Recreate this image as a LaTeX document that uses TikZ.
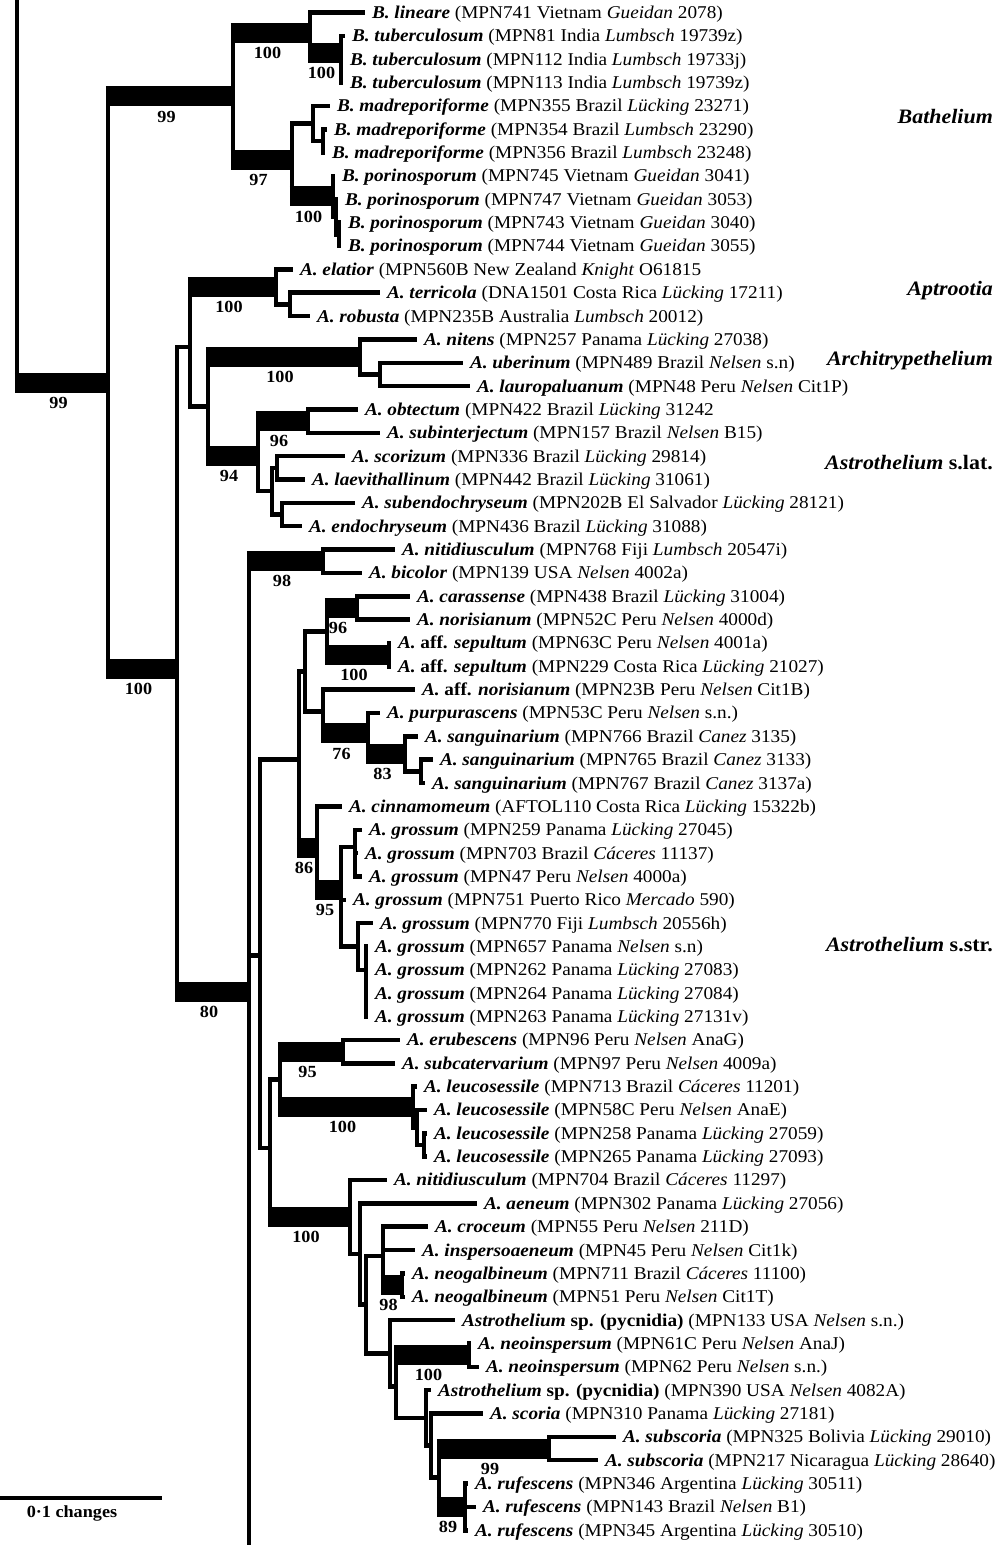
\documentclass[tikz,border=0pt]{standalone}
\usepackage{fontspec}
\setmainfont{Liberation Serif}[FakeStretch=1.07]
\newcommand{\spn}[1]{\textbf{\textit{#1}}}
\newcommand{\coll}[1]{\textit{#1}}
\newcommand{\taxfont}{\fontsize{18}{20}\selectfont}
\newcommand{\supfont}{\fontsize{17}{18}\selectfont\bfseries}
\newcommand{\cladefont}{\fontsize{20.5}{22}\selectfont\bfseries}

\begin{document}
\begin{tikzpicture}[x=1pt, y=-1pt,
                    br/.style={line width=4.5pt, line join=miter},
                    bar/.style={line width=20pt, shorten <=-2.25pt, shorten >=-2.25pt},
                    taxon/.style={anchor=west, font=\taxfont, inner xsep=7pt, inner ysep=0pt, outer sep=0pt, text height=11.9pt, text depth=0pt},
                    sup/.style={midway, font=\supfont, inner sep=0pt, text height=11.5pt, text depth=0pt, yshift=-20pt, xshift=-4pt},
                    clade/.style={anchor=east, font=\cladefont, inner sep=0pt, text height=13.5pt, text depth=0pt}
]
\useasboundingbox (0,0) rectangle (1004,1545);
%
\node [taxon] (t1) at (365,12.5) {\spn{B. lineare} (MPN741 Vietnam \coll{Gueidan} 2078)};
\node [taxon] (t2) at (345,35.85) {\spn{B. tuberculosum} (MPN81 India \coll{Lumbsch} 19739z)};
\node [taxon] (t3) at (343,59.2) {\spn{B. tuberculosum} (MPN112 India \coll{Lumbsch} 19733j)};
\node [taxon] (t4) at (343,82.55) {\spn{B. tuberculosum} (MPN113 India \coll{Lumbsch} 19739z)};
\node [taxon] (t5) at (330,105.9) {\spn{B. madreporiforme} (MPN355 Brazil \coll{Lücking} 23271)};
\node [taxon] (t6) at (327,129.25) {\spn{B. madreporiforme} (MPN354 Brazil \coll{Lumbsch} 23290)};
\node [taxon] (t7) at (325,152.6) {\spn{B. madreporiforme} (MPN356 Brazil \coll{Lumbsch} 23248)};
\node [taxon] (t8) at (335,175.95) {\spn{B. porinosporum} (MPN745 Vietnam \coll{Gueidan} 3041)};
\node [taxon] (t9) at (338,199.3) {\spn{B. porinosporum} (MPN747 Vietnam \coll{Gueidan} 3053)};
\node [taxon] (t10) at (341,222.65) {\spn{B. porinosporum} (MPN743 Vietnam \coll{Gueidan} 3040)};
\node [taxon] (t11) at (341,246.0) {\spn{B. porinosporum} (MPN744 Vietnam \coll{Gueidan} 3055)};
\node [taxon] (t12) at (293,269.35) {\spn{A. elatior} (MPN560B New Zealand \coll{Knight} O61815};
\node [taxon] (t13) at (380,292.7) {\spn{A. terricola} (DNA1501 Costa Rica \coll{Lücking} 17211)};
\node [taxon] (t14) at (310,316.05) {\spn{A. robusta} (MPN235B Australia \coll{Lumbsch} 20012)};
\node [taxon] (t15) at (417,339.4) {\spn{A. nitens} (MPN257 Panama \coll{Lücking} 27038)};
\node [taxon] (t16) at (463,362.75) {\spn{A. uberinum} (MPN489 Brazil \coll{Nelsen} s.n)};
\node [taxon] (t17) at (470,386.1) {\spn{A. lauropaluanum} (MPN48 Peru \coll{Nelsen} Cit1P)};
\node [taxon] (t18) at (358,409.45) {\spn{A. obtectum} (MPN422 Brazil \coll{Lücking} 31242};
\node [taxon] (t19) at (380,432.8) {\spn{A. subinterjectum} (MPN157 Brazil \coll{Nelsen} B15)};
\node [taxon] (t20) at (345,456.15) {\spn{A. scorizum} (MPN336 Brazil \coll{Lücking} 29814)};
\node [taxon] (t21) at (305,479.5) {\spn{A. laevithallinum} (MPN442 Brazil \coll{Lücking} 31061)};
\node [taxon] (t22) at (355,502.85) {\spn{A. subendochryseum} (MPN202B El Salvador \coll{Lücking} 28121)};
\node [taxon] (t23) at (302,526.2) {\spn{A. endochryseum} (MPN436 Brazil \coll{Lücking} 31088)};
\node [taxon] (t24) at (395,549.55) {\spn{A. nitidiusculum} (MPN768 Fiji \coll{Lumbsch} 20547i)};
\node [taxon] (t25) at (362,572.9) {\spn{A. bicolor} (MPN139 USA \coll{Nelsen} 4002a)};
\node [taxon] (t26) at (410,596.25) {\spn{A. carassense} (MPN438 Brazil \coll{Lücking} 31004)};
\node [taxon] (t27) at (410,619.6) {\spn{A. norisianum} (MPN52C Peru \coll{Nelsen} 4000d)};
\node [taxon] (t28) at (391,642.95) {\spn{A.} \textbf{aff.} \spn{sepultum} (MPN63C Peru \coll{Nelsen} 4001a)};
\node [taxon] (t29) at (391,666.3) {\spn{A.} \textbf{aff.} \spn{sepultum} (MPN229 Costa Rica \coll{Lücking} 21027)};
\node [taxon] (t30) at (415,689.65) {\spn{A.} \textbf{aff.} \spn{norisianum} (MPN23B Peru \coll{Nelsen} Cit1B)};
\node [taxon] (t31) at (380,713.0) {\spn{A. purpurascens} (MPN53C Peru \coll{Nelsen} s.n.)};
\node [taxon] (t32) at (418,736.35) {\spn{A. sanguinarium} (MPN766 Brazil \coll{Canez} 3135)};
\node [taxon] (t33) at (433,759.7) {\spn{A. sanguinarium} (MPN765 Brazil \coll{Canez} 3133)};
\node [taxon] (t34) at (425,783.05) {\spn{A. sanguinarium} (MPN767 Brazil \coll{Canez} 3137a)};
\node [taxon] (t35) at (342,806.4) {\spn{A. cinnamomeum} (AFTOL110 Costa Rica \coll{Lücking} 15322b)};
\node [taxon] (t36) at (362,829.75) {\spn{A. grossum} (MPN259 Panama \coll{Lücking} 27045)};
\node [taxon] (t37) at (358,853.1) {\spn{A. grossum} (MPN703 Brazil \coll{Cáceres} 11137)};
\node [taxon] (t38) at (362,876.45) {\spn{A. grossum} (MPN47 Peru \coll{Nelsen} 4000a)};
\node [taxon] (t39) at (346,899.8) {\spn{A. grossum} (MPN751 Puerto Rico \coll{Mercado} 590)};
\node [taxon] (t40) at (373,923.15) {\spn{A. grossum} (MPN770 Fiji \coll{Lumbsch} 20556h)};
\node [taxon] (t41) at (368,946.5) {\spn{A. grossum} (MPN657 Panama \coll{Nelsen} s.n)};
\node [taxon] (t42) at (368,969.85) {\spn{A. grossum} (MPN262 Panama \coll{Lücking} 27083)};
\node [taxon] (t43) at (368,993.2) {\spn{A. grossum} (MPN264 Panama \coll{Lücking} 27084)};
\node [taxon] (t44) at (368,1016.55) {\spn{A. grossum} (MPN263 Panama \coll{Lücking} 27131v)};
\node [taxon] (t45) at (400,1039.9) {\spn{A. erubescens} (MPN96 Peru \coll{Nelsen} AnaG)};
\node [taxon] (t46) at (395,1063.25) {\spn{A. subcatervarium} (MPN97 Peru \coll{Nelsen} 4009a)};
\node [taxon] (t47) at (417,1086.6) {\spn{A. leucosessile} (MPN713 Brazil \coll{Cáceres} 11201)};
\node [taxon] (t48) at (427,1109.95) {\spn{A. leucosessile} (MPN58C Peru \coll{Nelsen} AnaE)};
\node [taxon] (t49) at (427,1133.3) {\spn{A. leucosessile} (MPN258 Panama \coll{Lücking} 27059)};
\node [taxon] (t50) at (427,1156.65) {\spn{A. leucosessile} (MPN265 Panama \coll{Lücking} 27093)};
\node [taxon] (t51) at (387,1180.0) {\spn{A. nitidiusculum} (MPN704 Brazil \coll{Cáceres} 11297)};
\node [taxon] (t52) at (477,1203.35) {\spn{A. aeneum} (MPN302 Panama \coll{Lücking} 27056)};
\node [taxon] (t53) at (428,1226.7) {\spn{A. croceum} (MPN55 Peru \coll{Nelsen} 211D)};
\node [taxon] (t54) at (415,1250.05) {\spn{A. inspersoaeneum} (MPN45 Peru \coll{Nelsen} Cit1k)};
\node [taxon] (t55) at (405,1273.4) {\spn{A. neogalbineum} (MPN711 Brazil \coll{Cáceres} 11100)};
\node [taxon] (t56) at (405,1296.75) {\spn{A. neogalbineum} (MPN51 Peru \coll{Nelsen} Cit1T)};
\node [taxon] (t57) at (455,1320.1) {\spn{Astrothelium} \textbf{sp. (pycnidia)} (MPN133 USA \coll{Nelsen} s.n.)};
\node [taxon] (t58) at (471,1343.45) {\spn{A. neoinspersum} (MPN61C Peru \coll{Nelsen} AnaJ)};
\node [taxon] (t59) at (479,1366.8) {\spn{A. neoinspersum} (MPN62 Peru \coll{Nelsen} s.n.)};
\node [taxon] (t60) at (431,1390.15) {\spn{Astrothelium} \textbf{sp. (pycnidia)} (MPN390 USA \coll{Nelsen} 4082A)};
\node [taxon] (t61) at (483,1413.5) {\spn{A. scoria} (MPN310 Panama \coll{Lücking} 27181)};
\node [taxon] (t62) at (616,1436.85) {\spn{A. subscoria} (MPN325 Bolivia \coll{Lücking} 29010)};
\node [taxon] (t63) at (598,1460.2) {\spn{A. subscoria} (MPN217 Nicaragua \coll{Lücking} 28640)};
\node [taxon] (t64) at (468,1483.55) {\spn{A. rufescens} (MPN346 Argentina \coll{Lücking} 30511)};
\node [taxon] (t65) at (476,1506.9) {\spn{A. rufescens} (MPN143 Brazil \coll{Nelsen} B1)};
\node [taxon] (t66) at (468,1530.25) {\spn{A. rufescens} (MPN345 Argentina \coll{Lücking} 30510)};
%
\node [clade] (bath) at (993,117) {\spn{Bathelium}};
\node [clade] (aptr) at (993,289) {\spn{Aptrootia}};
\node [clade] (archi) at (993,359) {\spn{Architrypethelium}};
\node [clade] (slatlab) at (993,463) {\spn{Astrothelium} s.lat.};
\node [clade] (sstrlab) at (993,945) {\spn{Astrothelium} s.str.};
%
% internal nodes
\coordinate (root) at (17,0);
\coordinate (top) at (108,382.7);
\coordinate (bat) at (233,96.4);
\coordinate (lin) at (310,32.8);
\coordinate (tub) at (341,53);
\coordinate (bat97) at (292,159.9);
\coordinate (madA) at (313,123.4);
\coordinate (madB) at (323,141);
\coordinate (porA) at (333,196.4);
\coordinate (porB) at (336,216.8);
\coordinate (porC) at (339,234.3);
\coordinate (core) at (177,669);
\coordinate (g190) at (190,346.8);
\coordinate (apt) at (276,286.9);
\coordinate (apt2) at (290,304.4);
\coordinate (g208) at (208,406.6);
\coordinate (arch) at (360,356.9);
\coordinate (arch2) at (380,374.4);
\coordinate (slat) at (258,456.2);
\coordinate (obt) at (308,421.1);
\coordinate (slatB) at (272,491.2);
\coordinate (scor) at (277,467.8);
\coordinate (endo) at (282,514.5);
\coordinate (sstr) at (249,991.6);
\coordinate (mlow) at (249,1545);
\coordinate (nit) at (323,561.2);
\coordinate (R) at (260,955.6);
\coordinate (Q) at (299,759.7);
\coordinate (P) at (305,671.4);
\coordinate (X) at (327,631.3);
\coordinate (c96) at (357,607.9);
\coordinate (sep) at (389,654.6);
\coordinate (Y) at (323,711.5);
\coordinate (Z) at (368,733.4);
\coordinate (sangB) at (405,753.9);
\coordinate (sangC) at (421,771.4);
\coordinate (cin) at (317,848);
\coordinate (grT) at (341,890);
\coordinate (grU) at (355,847);
\coordinate (grV) at (358,946.6);
\coordinate (grW) at (366,970);
\coordinate (S) at (270,1148.2);
\coordinate (T) at (280,1079.3);
\coordinate (erub) at (343,1051.6);
\coordinate (leu) at (413,1107);
\coordinate (leuA) at (417,1127.5);
\coordinate (leuB) at (424,1145);
\coordinate (low) at (350,1217);
\coordinate (aen) at (360,1254);
\coordinate (N1) at (366,1304.6);
\coordinate (cro) at (383,1255.9);
\coordinate (neog) at (402,1285.1);
\coordinate (N2) at (390,1353.3);
\coordinate (N3) at (396,1386.5);
\coordinate (ins) at (469,1355.1);
\coordinate (sc) at (426,1417.9);
\coordinate (sr) at (431,1445.6);
\coordinate (ssr) at (439,1477.7);
\coordinate (ss) at (549,1448.5);
\coordinate (ruf) at (465,1506.9);
%
% Bathelium
\draw [br] (root) |- (top) (top) |- (bat) (top) |- (core);
\draw [br] (bat) |- (lin) (bat) |- (bat97);
\draw [br] (lin) |- (t1.west) (lin) |- (tub);
\draw [br] (tub) |- (t2.west) (tub) |- (t3.west) (tub) |- (t4.west);
\draw [br] (bat97) |- (madA) (bat97) |- (porA);
\draw [br] (madA) |- (t5.west) (madA) |- (madB);
\draw [br] (madB) |- (t6.west) (madB) |- (t7.west);
\draw [br] (porA) |- (t8.west) (porA) |- (porB);
\draw [br] (porB) |- (t9.west) (porB) |- (porC);
\draw [br] (porC) |- (t10.west) (porC) |- (t11.west);
\draw [bar] (root |- top) -- node[sup] {99} (top);
\draw [bar] (top |- bat) -- node[sup] {99} (bat);
\draw [bar] (top |- core) -- node[sup] {100} (core);
\draw [bar] (bat |- lin) -- node[sup] {100} (lin);
\draw [bar] (lin |- tub) -- node[sup] {100} (tub);
\draw [bar] (bat |- bat97) -- node[sup] {97} (bat97);
\draw [bar] (bat97 |- porA) -- node[sup] {100} (porA);
%
% Aptrootia, Architrypethelium, Astrothelium s.lat.
\draw [br] (core) |- (g190) (core) |- (sstr);
\draw [br] (g190) |- (apt) (g190) |- (g208);
\draw [br] (apt) |- (t12.west) (apt) |- (apt2);
\draw [br] (apt2) |- (t13.west) (apt2) |- (t14.west);
\draw [br] (g208) |- (arch) (g208) |- (slat);
\draw [br] (arch) |- (t15.west) (arch) |- (arch2);
\draw [br] (arch2) |- (t16.west) (arch2) |- (t17.west);
\draw [br] (slat) |- (obt) (slat) |- (slatB);
\draw [br] (obt) |- (t18.west) (obt) |- (t19.west);
\draw [br] (slatB) |- (scor) (slatB) |- (endo);
\draw [br] (scor) |- (t20.west) (scor) |- (t21.west);
\draw [br] (endo) |- (t22.west) (endo) |- (t23.west);
\draw [bar] (g190 |- apt) -- node[sup] {100} (apt);
\draw [bar] (g208 |- arch) -- node[sup] {100} (arch);
\draw [bar] (g208 |- slat) -- node[sup] {94} (slat);
\draw [bar] (slat |- obt) -- node[sup] {96} (obt);
\draw [bar] (core |- sstr) -- node[sup] {80} (sstr);
%
% Astrothelium s.str.
\draw [br] (sstr) |- (nit) (sstr) |- (R) (sstr) -- (mlow);
\draw [br] (nit) |- (t24.west) (nit) |- (t25.west);
\draw [br] (R) |- (Q) (R) |- (S);
\draw [br] (Q) |- (P) (Q) |- (cin);
\draw [br] (P) |- (X) (P) |- (Y);
\draw [br] (X) |- (c96) (X) |- (sep);
\draw [br] (c96) |- (t26.west) (c96) |- (t27.west);
\draw [br] (sep) |- (t28.west) (sep) |- (t29.west);
\draw [br] (Y) |- (t30.west) (Y) |- (Z);
\draw [br] (Z) |- (t31.west) (Z) |- (sangB);
\draw [br] (sangB) |- (t32.west) (sangB) |- (sangC);
\draw [br] (sangC) |- (t33.west) (sangC) |- (t34.west);
\draw [br] (cin) |- (t35.west) (cin) |- (grT);
\draw [br] (grT) |- (grU) (grT) |- (t39.west) (grT) |- (grV);
\draw [br] (grU) |- (t36.west) (grU) |- (t37.west) (grU) |- (t38.west);
\draw [br] (grV) |- (t40.west) (grV) |- (grW);
\draw [br] (grW) |- (t41.west) (grW) |- (t42.west) (grW) |- (t43.west) (grW) |- (t44.west);
\draw [bar] (sstr |- nit) -- node[sup] {98} (nit);
\draw [bar] (X |- c96) -- node[sup] {96} (c96);
\draw [bar] (X |- sep) -- node[sup] {100} (sep);
\draw [bar] (Y |- Z) -- node[sup] {76} (Z);
\draw [bar] (Z |- sangB) -- node[sup] {83} (sangB);
\draw [bar] (Q |- cin) -- node[sup] {86} (cin);
\draw [bar] (cin |- grT) -- node[sup] {95} (grT);
%
\draw [br] (S) |- (T) (S) |- (low);
\draw [br] (T) |- (erub) (T) |- (leu);
\draw [br] (erub) |- (t45.west) (erub) |- (t46.west);
\draw [br] (leu) |- (t47.west) (leu) |- (leuA);
\draw [br] (leuA) |- (t48.west) (leuA) |- (leuB);
\draw [br] (leuB) |- (t49.west) (leuB) |- (t50.west);
\draw [br] (low) |- (t51.west) (low) |- (aen);
\draw [br] (aen) |- (t52.west) (aen) |- (N1);
\draw [br] (N1) |- (cro) (N1) |- (N2);
\draw [br] (cro) |- (t53.west) (cro) |- (t54.west) (cro) |- (neog);
\draw [br] (neog) |- (t55.west) (neog) |- (t56.west);
\draw [br] (N2) |- (t57.west) (N2) |- (N3);
\draw [br] (N3) |- (ins) (N3) |- (sc);
\draw [br] (ins) |- (t58.west) (ins) |- (t59.west);
\draw [br] (sc) |- (t60.west) (sc) |- (sr);
\draw [br] (sr) |- (t61.west) (sr) |- (ssr);
\draw [br] (ssr) |- (ss) (ssr) |- (ruf);
\draw [br] (ss) |- (t62.west) (ss) |- (t63.west);
\draw [br] (ruf) |- (t64.west) (ruf) |- (t65.west) (ruf) |- (t66.west);
\draw [bar] (T |- erub) -- node[sup] {95} (erub);
\draw [bar] (T |- leu) -- node[sup] {100} (leu);
\draw [bar] (S |- low) -- node[sup] {100} (low);
\draw [bar] (cro |- neog) -- node[sup] {98} (neog);
\draw [bar] (N3 |- ins) -- node[sup] {100} (ins);
\draw [bar] (ssr |- ss) -- node[sup] {99} (ss);
\draw [bar] (ssr |- ruf) -- node[sup] {89} (ruf);
%
% scale bar
\coordinate (sb1) at (0,1498);
\coordinate (sb2) at (162,1498);
\draw [br, line width=4pt] (sb1) -- (sb2);
\node [font=\supfont, inner sep=0pt, text height=11.5pt, text depth=0pt] (sblab) at (72,1512) {0·1 changes};
\end{tikzpicture}
\end{document}
